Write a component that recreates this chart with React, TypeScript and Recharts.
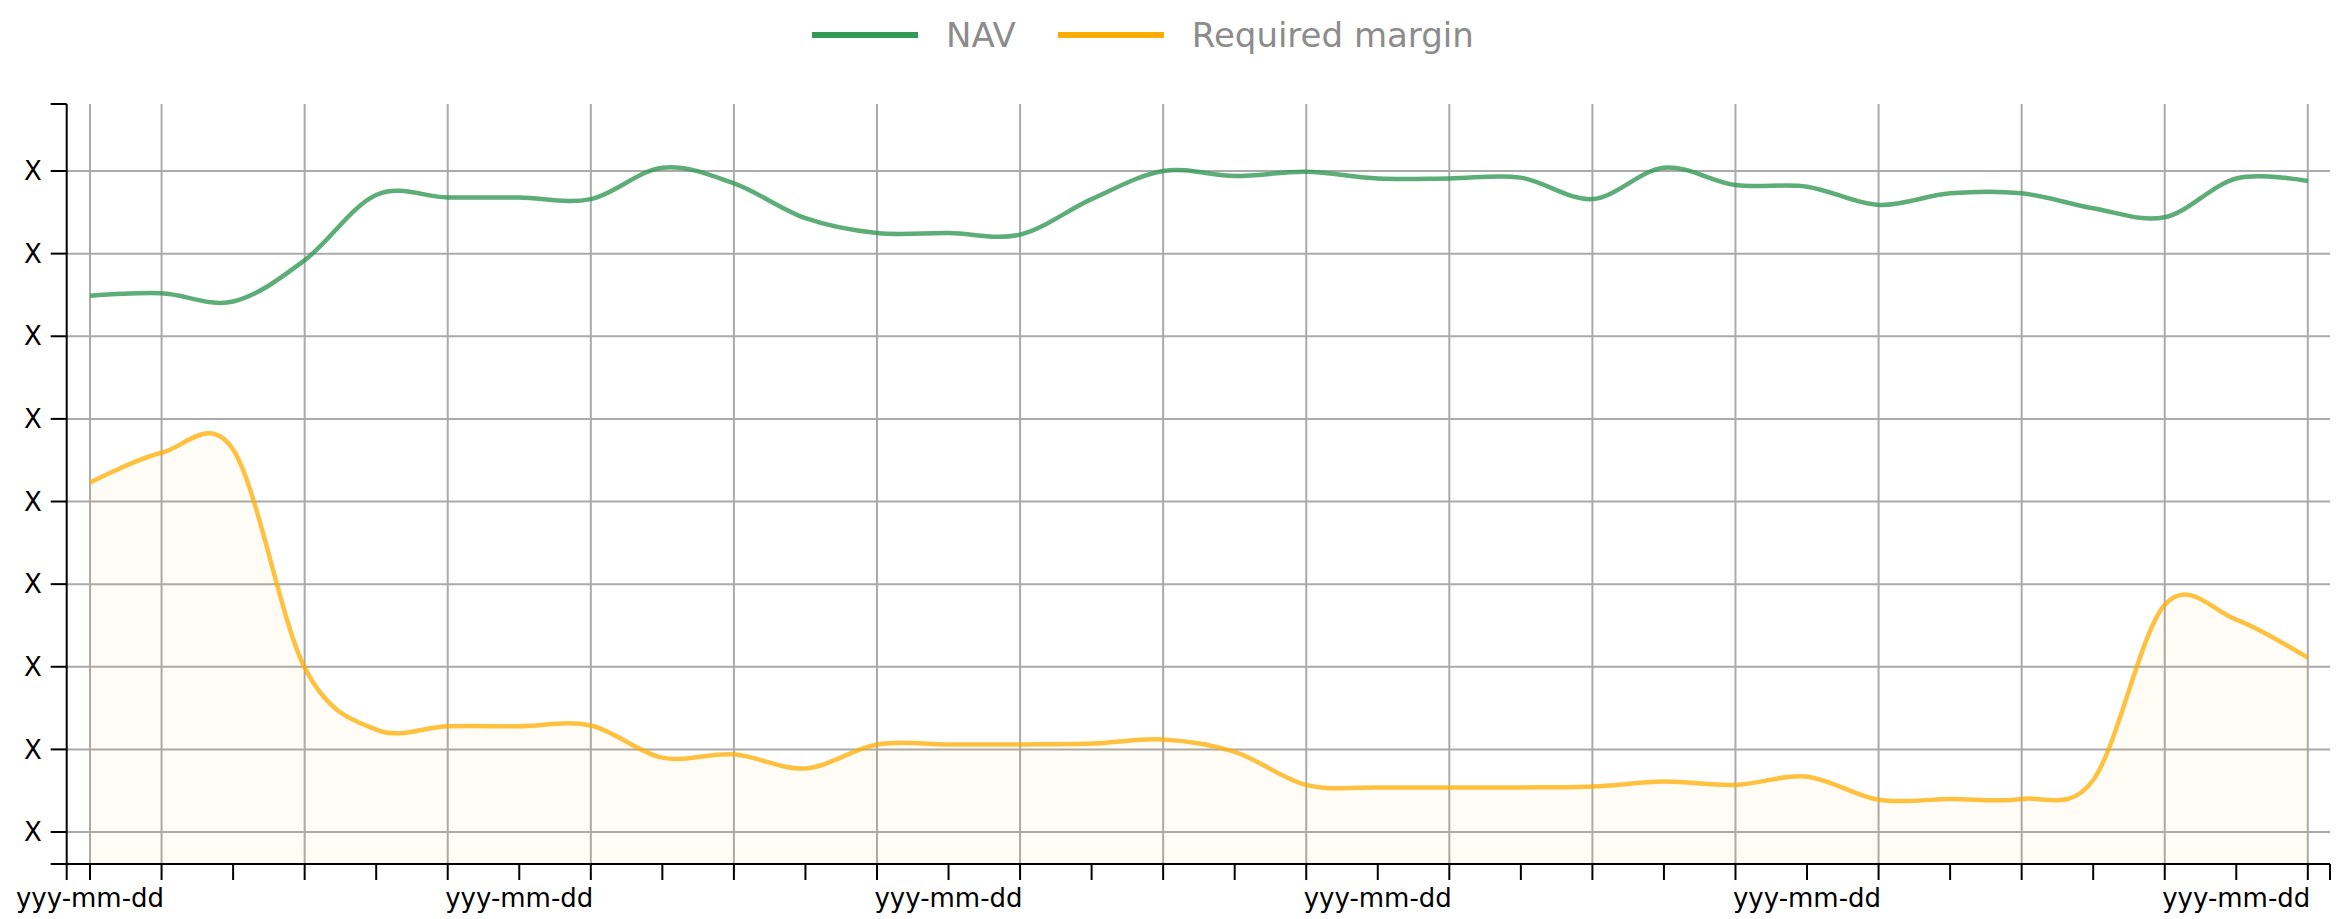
import React from 'react';
import { ComposedChart, Line, Area, XAxis, YAxis, CartesianGrid, Legend } from 'recharts';

// ---- data ----
const positions: number[] = [
  0, 1, 2, 3, 4, 5, 6, 7, 8, 9, 10, 11, 12, 13, 14, 15,
  16, 17, 18, 19, 20, 21, 22, 23, 24, 25, 26, 27, 28, 29, 30, 31,
];
const tickLabels: string[] = [
  'yyy-mm-dd', '', '', '', '', '', 'yyy-mm-dd', '', '', '', '', '', 'yyy-mm-dd', '', '', '', '',
  '', 'yyy-mm-dd', '', '', '', '', '', 'yyy-mm-dd', '', '', '', '', '', 'yyy-mm-dd', '',
];
const navValues: number[] = [
  64.9, 65.2, 64.2, 69.2, 77.1, 76.8, 76.8, 76.6, 80.4, 78.5, 74.3, 72.5, 72.5, 72.3, 76.6, 80.0,
  79.4, 79.9, 79.1, 79.1, 79.2, 76.6, 80.4, 78.3, 78.1, 75.9, 77.3, 77.3, 75.5, 74.4, 79.1, 78.8,
];
const marginValues: number[] = [
  42.3, 45.9, 46.3, 19.9, 12.4, 12.8, 12.8, 12.9, 9.0, 9.4, 7.7, 10.6, 10.6, 10.6, 10.7, 11.2,
  9.7, 5.7, 5.4, 5.4, 5.4, 5.5, 6.1, 5.7, 6.7, 3.9, 4.0, 4.0, 6.3, 27.5, 25.7, 21.1,
];
const yTickValues: number[] = [0, 10, 20, 30, 40, 50, 60, 70, 80];
const yTickLabel = 'X';
const xGridPositions: number[] = [0, 1, 3, 5, 7, 9, 11, 13, 15, 17, 19, 21, 23, 25, 27, 29, 31];
const xDomain: [number, number] = [-0.326, 31.31];
const yDomain: [number, number] = [-3.87, 88.11];

const seriesNames = { nav: 'NAV', margin: 'Required margin' };
const colors = { nav: '#339955', margin: '#ffac00', legendText: '#8c8c8c' };

const data = positions.map((t, i) => ({ t, nav: navValues[i], margin: marginValues[i] }));

// Cardinal (tension 0) curve factory, same algorithm as d3.curveCardinal
function cardinalCurve(context: any) {
  const k = 1 / 6;
  let line = NaN;
  let pt = 0;
  let x0 = NaN, x1 = NaN, x2 = NaN, y0 = NaN, y1 = NaN, y2 = NaN;
  const seg = (x: number, y: number) => {
    context.bezierCurveTo(
      x1 + k * (x2 - x0),
      y1 + k * (y2 - y0),
      x2 + k * (x1 - x),
      y2 + k * (y1 - y),
      x2,
      y2,
    );
  };
  return {
    areaStart() { line = 0; },
    areaEnd() { line = NaN; },
    lineStart() {
      x0 = x1 = x2 = y0 = y1 = y2 = NaN;
      pt = 0;
    },
    lineEnd() {
      if (pt === 2) context.lineTo(x2, y2);
      else if (pt === 3) seg(x1, y1);
      if (line || (line !== 0 && pt === 1)) context.closePath();
      line = 1 - line;
    },
    point(xa: number, ya: number) {
      const x = +xa;
      const y = +ya;
      if (pt === 0) {
        pt = 1;
        if (line) context.lineTo(x, y); else context.moveTo(x, y);
      } else if (pt === 1) {
        pt = 2;
        x1 = x; y1 = y;
      } else {
        pt = 3;
        seg(x, y);
      }
      x0 = x1; x1 = x2; x2 = x;
      y0 = y1; y1 = y2; y2 = y;
    },
  };
}

const FONT = '"DejaVu Sans", sans-serif';

// grid line placement, using the same linear mapping as the axes
const gridX = (p: any) => {
  const o = p.offset;
  return xGridPositions.map((v) => o.left + ((v - xDomain[0]) / (xDomain[1] - xDomain[0])) * o.width);
};
const gridY = (p: any) => {
  const o = p.offset;
  return yTickValues.map((v) => o.top + ((yDomain[1] - v) / (yDomain[1] - yDomain[0])) * o.height);
};

const renderLegend = (props: any) => {
  const payload = props.payload || [];
  return (
    <div style={{ display: 'flex', alignItems: 'center', height: 70 }}>
      {payload.map((e: any, i: number) => (
        <div key={i} style={{ display: 'flex', alignItems: 'center', marginRight: 42 }}>
          <svg width={106} height={6} style={{ display: 'block' }}>
            <line x1={0} y1={3} x2={106} y2={3} stroke={e.color} strokeWidth={6} />
          </svg>
          <span style={{ marginLeft: 28, fontSize: 34, color: colors.legendText, fontFamily: FONT, lineHeight: '40px' }}>
            {e.value}
          </span>
        </div>
      ))}
    </div>
  );
};

export default function App() {
  return (
    <div style={{ position: 'absolute', left: 0, top: 0, width: 2350, height: 919, background: '#fff' }}>
      <ComposedChart
        width={2350}
        height={919}
        data={data}
        margin={{ top: 104, right: 20, bottom: 0, left: 0 }}
      >
        <CartesianGrid
          stroke="#aaaaaa"
          strokeWidth={2}
          verticalCoordinatesGenerator={gridX}
          horizontalCoordinatesGenerator={gridY}
        />
        <XAxis
          dataKey="t"
          type="number"
          domain={xDomain}
          allowDataOverflow
          ticks={[xDomain[0], ...positions, xDomain[1]]}
          interval={0}
          height={55}
          tickSize={16}
          tickMargin={9}
          axisLine={{ stroke: '#000', strokeWidth: 2 }}
          tickLine={{ stroke: '#000', strokeWidth: 2 }}
          tick={{ fill: '#000', fontSize: 26, fontFamily: FONT }}
          tickFormatter={(v: number) => (Number.isInteger(v) ? tickLabels[v] ?? '' : '')}
        />
        <YAxis
          type="number"
          domain={yDomain}
          allowDataOverflow
          ticks={[yDomain[0], ...yTickValues, yDomain[1]]}
          interval={0}
          width={66.7}
          tickSize={16}
          tickMargin={9}
          axisLine={{ stroke: '#000', strokeWidth: 2 }}
          tickLine={{ stroke: '#000', strokeWidth: 2 }}
          tick={{ fill: '#000', fontSize: 26, fontFamily: FONT }}
          tickFormatter={(v: number) => (yTickValues.includes(v) ? yTickLabel : '')}
        />
        <Legend
          verticalAlign="middle"
          align="center"
          layout="horizontal"
          wrapperStyle={{ top: 0, left: 812, width: 'auto', height: 70 }}
          content={renderLegend}
        />
        <Line
          dataKey="nav"
          name={seriesNames.nav}
          type={cardinalCurve as any}
          stroke={colors.nav}
          strokeOpacity={0.8}
          strokeWidth={4.5}
          dot={false}
          activeDot={false}
          legendType="line"
          isAnimationActive={false}
        />
        <Area
          dataKey="margin"
          name={seriesNames.margin}
          type={cardinalCurve as any}
          stroke={colors.margin}
          strokeOpacity={0.75}
          strokeWidth={4.5}
          fill={colors.margin}
          fillOpacity={0.04}
          baseValue="dataMin"
          dot={false}
          activeDot={false}
          legendType="line"
          isAnimationActive={false}
        />
      </ComposedChart>
    </div>
  );
}
